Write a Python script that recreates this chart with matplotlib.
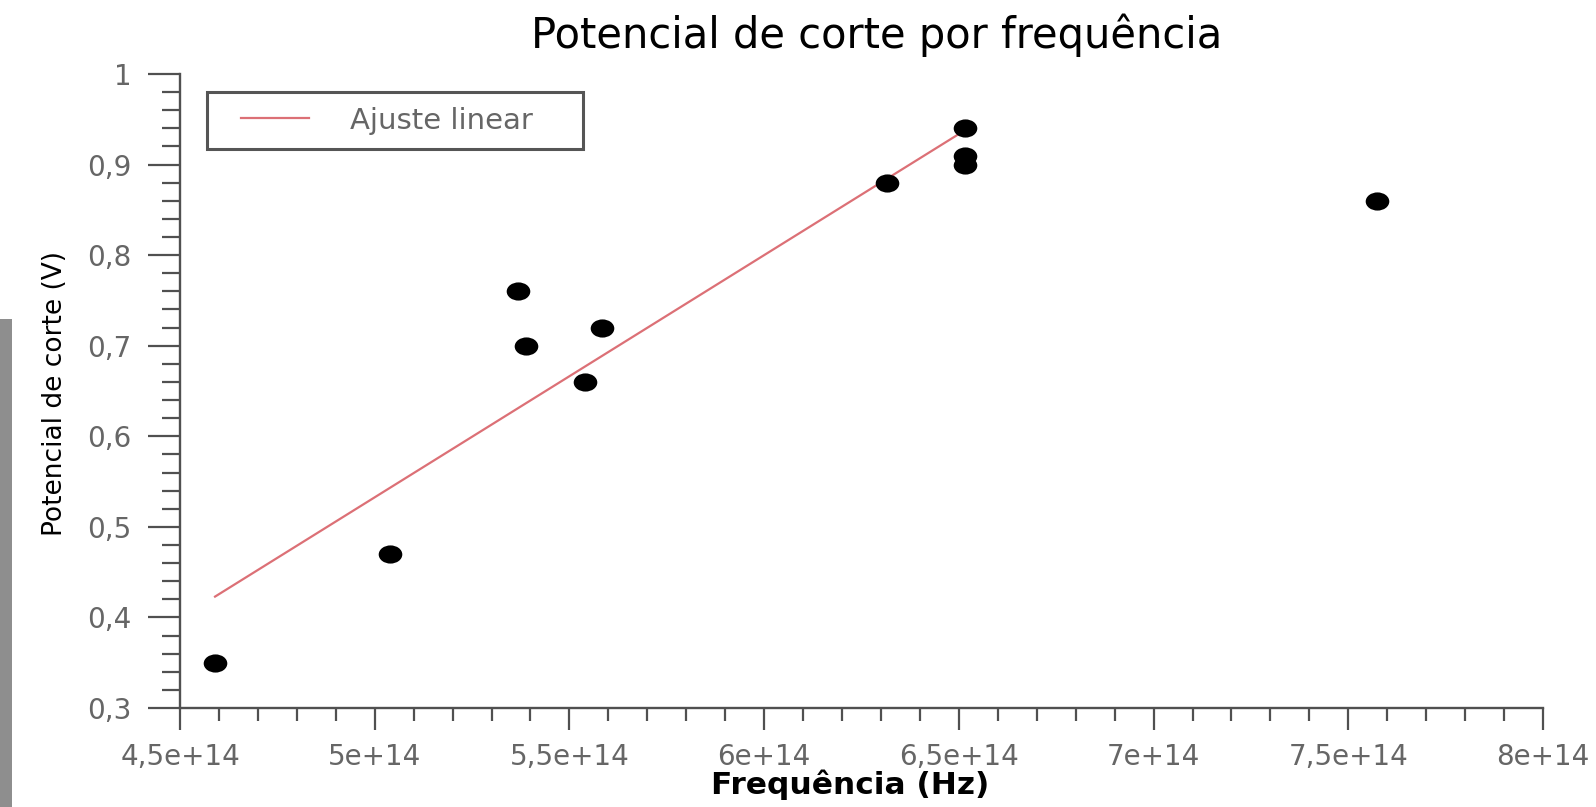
import numpy as np
import matplotlib
matplotlib.use("Agg")
import matplotlib.pyplot as plt
from matplotlib.path import Path
from matplotlib.patches import Rectangle
from matplotlib.ticker import FixedLocator, FixedFormatter, MultipleLocator

# ---------------- data ----------------
freq = [4.59e14, 5.04e14, 5.368e14, 5.389e14, 5.584e14, 5.54e14,
        6.316e14, 6.516e14, 6.516e14, 6.516e14, 7.574e14]
voltage = [0.35, 0.47, 0.76, 0.70, 0.72, 0.66,
           0.88, 0.94, 0.91, 0.90, 0.86]
fit_freq = [4.59e14, 6.516e14]
fit_voltage = [0.423, 0.938]

xticks = [4.5e14, 5e14, 5.5e14, 6e14, 6.5e14, 7e14, 7.5e14, 8e14]
xtick_labels = ["4,5e+14", "5e+14", "5,5e+14", "6e+14", "6,5e+14",
                "7e+14", "7,5e+14", "8e+14"]
yticks = [0.3, 0.4, 0.5, 0.6, 0.7, 0.8, 0.9, 1.0]
ytick_labels = ["0,3", "0,4", "0,5", "0,6", "0,7", "0,8", "0,9", "1"]

title = "Potencial de corte por frequência"
xlabel = "Frequência (Hz)"
ylabel = "Potencial de corte (V)"
legend_label = "Ajuste linear"

# ---------------- figure ----------------
W, H = 1596, 807
fig = plt.figure(figsize=(W / 100, H / 100), dpi=100)
fig.patch.set_facecolor("white")

# grey photo strip at far left of the screenshot
fig.patches.append(Rectangle((0, 0), 12 / W, (H - 319) / H, transform=fig.transFigure,
                             facecolor="#8e8e8e", edgecolor="none", zorder=0))

ax_l, ax_r, ax_t, ax_b = 180, 1543, 74, 708
ax = fig.add_axes([ax_l / W, (H - ax_b) / H, (ax_r - ax_l) / W, (ax_b - ax_t) / H])

grey = "#666666"
spine_c = "#505050"

# fit line
ax.plot(fit_freq, fit_voltage, color="#dc7076", lw=1.6, label=legend_label, zorder=2)

# elliptical markers (the screenshot is stretched horizontally)
circ = Path.unit_circle()
ell = Path(circ.vertices * np.array([1.3, 1.0]), circ.codes)
ax.plot(freq, voltage, linestyle="none", marker=ell, markersize=17,
        color="black", markeredgewidth=0, zorder=3)

ax.set_xlim(4.5e14, 8e14)
ax.set_ylim(0.3, 1.0)

for s in ("top", "right"):
    ax.spines[s].set_visible(False)
for s in ("left", "bottom"):
    ax.spines[s].set_color(spine_c)
    ax.spines[s].set_linewidth(1.7)

ax.xaxis.set_major_locator(FixedLocator(xticks))
ax.xaxis.set_major_formatter(FixedFormatter(xtick_labels))
ax.xaxis.set_minor_locator(MultipleLocator(0.1e14))
ax.yaxis.set_major_locator(FixedLocator(yticks))
ax.yaxis.set_major_formatter(FixedFormatter(ytick_labels))
ax.yaxis.set_minor_locator(MultipleLocator(0.02))

tick_fs = 20
ax.tick_params(axis="y", which="major", direction="out", length=23, width=1.6,
               color=spine_c, pad=12, labelsize=tick_fs, labelcolor=grey)
ax.tick_params(axis="y", which="minor", direction="out", length=13, width=1.6,
               color=spine_c)
ax.tick_params(axis="x", which="major", direction="out", length=16, width=1.6,
               color=spine_c, pad=9, labelsize=tick_fs, labelcolor=grey)
ax.tick_params(axis="x", which="minor", direction="out", length=9, width=1.6,
               color=spine_c)

# labels
ax.set_xlabel(xlabel, fontsize=22.5, fontweight="bold", color="black")
ax.xaxis.set_label_coords((850 - ax_l) / (ax_r - ax_l), -(769 - ax_b) / (ax_b - ax_t))
ax.set_ylabel(ylabel, fontsize=19, color="black")
ax.yaxis.set_label_coords(-(ax_l - 68) / (ax_r - ax_l), (ax_b - 394) / (ax_b - ax_t))

fig.text(877 / W, 1 - 35 / H, title, fontsize=30, color="black",
         ha="center", va="center")

# legend box: (207,92)-(583,148)
lx0 = (207 - ax_l) / (ax_r - ax_l)
lw_ = (583 - 207) / (ax_r - ax_l)
ltop = (ax_b - 92) / (ax_b - ax_t)
leg = ax.legend(loc="upper left", bbox_to_anchor=(lx0, ltop - 0.1, lw_, 0.1),
                mode="expand", borderaxespad=0, fontsize=21, frameon=True,
                fancybox=False, framealpha=1, edgecolor="#555555",
                borderpad=0.5, handlelength=3.0, handletextpad=1.4)
leg.get_frame().set_linewidth(2.2)
for t in leg.get_texts():
    t.set_color(grey)
hl = leg.get_lines()[0]
xd = np.asarray(hl.get_xdata(), dtype=float)
hl.set_xdata(np.linspace(xd[0] + (xd[-1] - xd[0]) * 0.22, xd[-1], len(xd)))

fig.savefig("out.png", dpi=100, facecolor="white")
